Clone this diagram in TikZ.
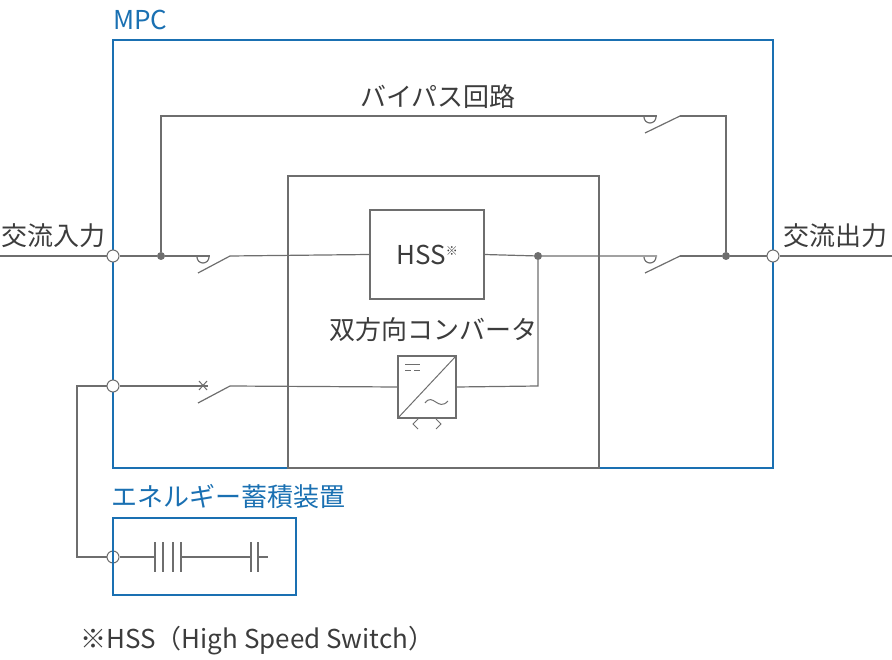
\documentclass[tikz,border=0pt]{standalone}
\usepackage{fontspec}
\setmainfont{Noto Sans CJK JP}
\usetikzlibrary{arrows.meta,positioning}
\definecolor{mpcblue}{RGB}{26,112,178}
\definecolor{wire}{RGB}{110,110,110}
\definecolor{txt}{RGB}{60,60,60}
\tikzset{
  line/.style={draw=wire,line width=1.2pt},
  bluebox/.style={draw=mpcblue,line width=1.6pt},
  lbl/.style={text=txt,font=\fontsize{26}{30}\selectfont,inner sep=0pt},
  bluelbl/.style={text=mpcblue,font=\fontsize{26}{30}\selectfont,inner sep=0pt},
  term/.style={circle,draw=wire,fill=white,line width=1pt,minimum size=12pt,inner sep=0pt},
  jdot/.style={circle,fill=wire,minimum size=8pt,inner sep=0pt},
  plate/.style={draw=wire,line width=1.2pt}
}
\begin{document}
\begin{tikzpicture}[x=1pt,y=-1pt]
  \useasboundingbox (0,0) rectangle (892,660);
  % outer boxes
  \draw[bluebox] (113,40) rectangle (773,468);
  \node[bluelbl,anchor=west] (mpc) at (113,20) {MPC};
  \draw[line] (288,176) rectangle (599,468);
  \node[line,minimum width=114pt,minimum height=89pt] (hss) at (427,254.5) {};
  \node[lbl] (hsslbl) at (hss) {HSS\raisebox{9pt}{\fontsize{12}{12}\selectfont ※}};
  % converter
  \node[line,minimum width=58pt,minimum height=62pt,inner sep=0pt] (conv) at (427,387) {};
  \draw[line,line width=1pt] (conv.south west) -- (conv.north east);
  \draw[line,line width=1pt] (405,365) -- (420,365);
  \draw[line,line width=1pt,dash pattern=on 6pt off 3pt] (405,371) -- (422,371);
  \draw[line,line width=1pt] (425,403) .. controls (433,392) and (438,412) .. (448,401);
  \draw[line,line width=1pt] (418,419) -- (413,424) -- (418,429);
  \draw[line,line width=1pt] (436,419) -- (441,424) -- (436,429);
  \node[lbl] (convlbl) at (433,330) {双方向コンバータ};
  % terminals and junctions
  \node[term] (in) at (113,256) {};
  \node[term] (out) at (773,256) {};
  \node[term] (bat) at (113,386) {};
  \node[term] (cell) at (113,557) {};
  \node[jdot] (j1) at (161,256) {};
  \node[jdot] (j2) at (726,256) {};
  \node[jdot] (j3) at (538,256) {};
  \coordinate (inl) at (0,256);
  \coordinate (outr) at (892,256);
  % main line
  \draw[line] (inl) -- (in) -- (j1) -- (210,256);
  \draw[line] (230,256) -- (hss.west);
  \draw[line] (hss.east) -- (j3) -- (657,256);
  \draw[line] (680,256) -- (j2) -- (out) -- (outr);
  \draw[line] (198,273) -- (230,256);
  \draw[line] (645,273) -- (680,256);
  \draw[line] (197,257) arc[start angle=180,end angle=0,radius=6];
  \draw[line] (644,257) arc[start angle=180,end angle=0,radius=6];
  % bypass
  \draw[line] (j1) |- (657,116);
  \draw[line] (680,116) -| (j2);
  \draw[line] (645,133) -- (680,116);
  \draw[line] (644,117) arc[start angle=180,end angle=0,radius=6];
  \node[lbl] (bypass) at (438,97) {バイパス回路};
  % storage line
  \draw[line] (bat) -- (208,386);
  \draw[line] (230,386) -- (conv.west);
  \draw[line] (198,403) -- (230,386);
  \draw[line,line width=1pt] (199,381) -- (207,390) (199,390) -- (207,381);
  \draw[line] (conv.east) -- (538,386) -- (j3);
  \draw[line] (bat) -- (77,386) |- (cell);
  % storage device
  \draw[bluebox,line width=1.2pt] (113,518) rectangle (296,595);
  \node[bluelbl,anchor=west] (storlbl) at (111,497) {エネルギー蓄積装置};
  \draw[line] (cell) -- (155,557);
  \foreach \px in {155,163,173,181} \draw[plate] (\px,542) -- (\px,572);
  \draw[line] (181,557) -- (251,557);
  \foreach \px in {251,258} \draw[plate] (\px,542) -- (\px,572);
  \draw[line] (258,557) -- (268,557);
  % io labels
  \node[lbl,anchor=west] (inlbl) at (1,236) {交流入力};
  \node[lbl,anchor=east] (outlbl) at (888,236) {交流出力};
  \node[lbl,anchor=west] (note) at (80,641) {※HSS（High Speed Switch）};
\end{tikzpicture}
\end{document}
